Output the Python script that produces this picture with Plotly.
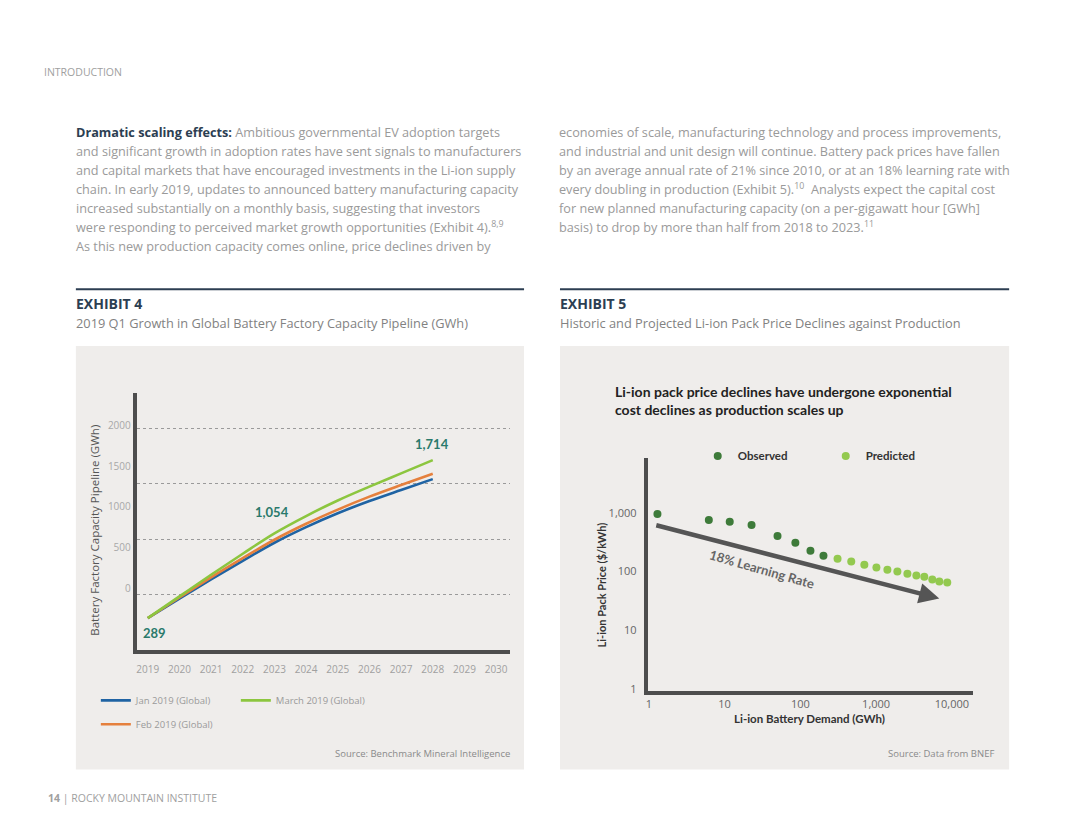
import plotly.graph_objects as go

W, H = 1080, 834
OX, OY = 7, 6  # page body margin compensation
def px(x): return (x - OX) / W
def py(y): return 1 - (y - OY) / H

# ---------------- data: Exhibit 4 ----------------
years = [2019, 2020, 2021, 2022, 2023, 2024, 2025, 2026, 2027, 2028]
jan_2019 = [289, 465, 638, 806, 969, 1110, 1235, 1345, 1445, 1543]
feb_2019 = [289, 475, 657, 830, 996, 1140, 1268, 1385, 1490, 1591]
mar_2019 = [289, 485, 680, 870, 1054, 1210, 1350, 1475, 1595, 1714]
year_ticks = list(range(2019, 2031))
cap_grid = [500, 1000, 1500, 2000]
cap_label_vals = [0, 500, 1000, 1500, 2000]

# ---------------- data: Exhibit 5 ----------------
obs_demand = [1.3, 6.2, 11.7, 22.7, 50, 86, 136, 202]
obs_price = [960, 760, 705, 625, 405, 310, 227, 187]
pred_demand = [310, 470, 700, 1010, 1410, 1910, 2590, 3400, 4330, 5520, 6830, 8700]
pred_price = [166, 148, 131, 117, 108, 100, 92, 86, 82, 73, 68, 65]
log_ticks = [1, 10, 100, 1000, 10000]
log_ticktext = ["1", "10", "100", "1,000", "10,000"]
price_ticks = [1, 10, 100, 1000]
price_ticktext = ["1", "10", "100", "1,000"]

FONT = "Open Sans"
FONT2 = "Lato"
BODY = "#9a9a9a"
NAVY = "#2c3e52"
TEAL = "#2a7a6b"
AXC = "#4d4d4d"
PANEL = "#efedeb"

fig = go.Figure()

# Exhibit 4 lines
fig.add_trace(go.Scatter(x=years, y=jan_2019, mode="lines", name="Jan 2019 (Global)",
                         line=dict(color="#1f63a3", width=2.6, shape="spline"),
                         xaxis="x", yaxis="y", legend="legend", legendrank=1))
fig.add_trace(go.Scatter(x=years, y=feb_2019, mode="lines", name="Feb 2019 (Global)",
                         line=dict(color="#e5803d", width=2.6, shape="spline"),
                         xaxis="x", yaxis="y", legend="legend2"))
fig.add_trace(go.Scatter(x=years, y=mar_2019, mode="lines", name="March 2019 (Global)",
                         line=dict(color="#8cc63f", width=2.6, shape="spline"),
                         xaxis="x", yaxis="y", legend="legend", legendrank=2))
# carrier for the (offset) value labels of the Exhibit 4 axis
fig.add_trace(go.Scatter(x=[years[0]], y=[cap_label_vals[0]], mode="markers",
                         marker=dict(opacity=0), showlegend=False, hoverinfo="skip",
                         xaxis="x", yaxis="y3"))

# Exhibit 5 scatter
fig.add_trace(go.Scatter(x=obs_demand, y=obs_price, mode="markers", name="Observed",
                         marker=dict(color="#3e7b3a", size=8),
                         xaxis="x2", yaxis="y2", legend="legend3"))
fig.add_trace(go.Scatter(x=pred_demand, y=pred_price, mode="markers", name="Predicted",
                         marker=dict(color="#93c94f", size=8),
                         xaxis="x2", yaxis="y2", legend="legend3"))

shapes = [
    dict(type="rect", xref="paper", yref="paper", x0=px(73), x1=px(522), y0=py(772), y1=py(346),
         fillcolor=PANEL, line=dict(width=0), layer="below"),
    dict(type="rect", xref="paper", yref="paper", x0=px(558), x1=px(1008), y0=py(772), y1=py(346),
         fillcolor=PANEL, line=dict(width=0), layer="below"),
    dict(type="line", xref="paper", yref="paper", x0=px(73), x1=px(522), y0=py(289), y1=py(289),
         line=dict(color=NAVY, width=2)),
    dict(type="line", xref="paper", yref="paper", x0=px(558), x1=px(1008), y0=py(289), y1=py(289),
         line=dict(color=NAVY, width=2)),
]

ann = []
def text(x, y, s, size=12, color=BODY, anchor="left", angle=0, family=FONT):
    if anchor == "left":
        x -= 2  # annotation inner padding
    ann.append(dict(x=px(x), y=py(y), xref="paper", yref="paper", text=s, showarrow=False,
                    xanchor=anchor, yanchor="middle", textangle=angle,
                    font=dict(family=family, size=size, color=color)))

left_lines = [
    f"<b><span style='color:{NAVY}'>Dramatic scaling effects:</span></b> Ambitious governmental EV adoption targets",
    "and significant growth in adoption rates have sent signals to manufacturers",
    "and capital markets that have encouraged investments in the Li-ion supply",
    "chain. In early 2019, updates to announced battery manufacturing capacity",
    "increased substantially on a monthly basis, suggesting that investors",
    "were responding to perceived market growth opportunities (Exhibit 4).<sup>8,9</sup>",
    "As this new production capacity comes online, price declines driven by",
]
right_lines = [
    "economies of scale, manufacturing technology and process improvements,",
    "and industrial and unit design will continue. Battery pack prices have fallen",
    "by an average annual rate of 21% since 2010, or at an 18% learning rate with",
    "every doubling in production (Exhibit 5).<sup>10</sup>  Analysts expect the capital cost",
    "for new planned manufacturing capacity (on a per-gigawatt hour [GWh]",
    "basis) to drop by more than half from 2018 to 2023.<sup>11</sup>",
]
for i, s in enumerate(left_lines):
    text(73, 131 + 19 * i, s, size=12.7)
for i, s in enumerate(right_lines):
    text(557, 131 + 19 * i, s, size=12.7)

text(41, 70, "INTRODUCTION", size=10.5, color="#a0a0a0")
text(45, 801, "<b>14</b> | ROCKY MOUNTAIN INSTITUTE", size=10.5, color="#a0a0a0")

text(73, 303, "<b>EXHIBIT 4</b>", size=14, color=NAVY)
text(73, 323, "2019 Q1 Growth in Global Battery Factory Capacity Pipeline (GWh)", size=12.8, color="#828282")
text(558, 303, "<b>EXHIBIT 5</b>", size=14, color=NAVY)
text(558, 323, "Historic and Projected Li-ion Pack Price Declines against Production", size=12.8, color="#828282")

# Exhibit 4 chart texts
text(92, 531, "Battery Factory Capacity Pipeline (GWh)", size=11.5, color="#555555", anchor="center", angle=-90)
text(510, 756, "Source: Benchmark Mineral Intelligence", size=9.5, color="#8a8a8a", anchor="right")

# data labels
for xv, yv, s, xs, ys in [(years[0], mar_2019[0], "289", 7, -15),
                          (years[4], mar_2019[4], "1,054", -2, 21),
                          (years[9], mar_2019[9], "1,714", -1, 16)]:
    ann.append(dict(x=xv, y=yv, xref="x", yref="y", text=f"<b>{s}</b>", showarrow=False,
                    xshift=xs, yshift=ys, font=dict(family=FONT2, size=13, color=TEAL)))

# Exhibit 5 chart texts
ann.append(dict(x=px(611), y=py(401), xref="paper", yref="paper", showarrow=False,
                xanchor="left", yanchor="middle", align="left",
                text="<b>Li-ion pack price declines have undergone exponential<br>cost declines as production scales up</b>",
                font=dict(family=FONT2, size=14, color="#222222")))
text(600, 586, "<b>Li-ion Pack Price ($/kWh)</b>", size=11, color="#333333", anchor="center", angle=-90, family=FONT2)
text(808, 721, "<b>Li-ion Battery Demand (GWh)</b>", size=11.5, color="#333333", anchor="center", family=FONT2)
text(995, 756, "Source: Data from BNEF", size=9.5, color="#8a8a8a", anchor="right")

# learning-rate arrow
ann.append(dict(x=3.834, y=1.542, ax=0.079, ay=2.797, xref="x2", yref="y2", axref="x2", ayref="y2",
                showarrow=True, arrowhead=2, arrowsize=0.9, arrowwidth=4.5, arrowcolor="#555555",
                text="", standoff=0))
text(760, 570, "<b>18% Learning Rate</b>", size=13, color="#666666", anchor="center", angle=16, family=FONT2)

fig.update_layout(
    width=W, height=H, margin=dict(l=0, r=0, t=0, b=0),
    paper_bgcolor="white", plot_bgcolor="rgba(0,0,0,0)",
    font=dict(family=FONT),
    shapes=shapes, annotations=ann,
    xaxis=dict(domain=[px(134), px(508)], range=[2018.653, 2030.441], tickvals=year_ticks,
               showgrid=False, zeroline=False, showline=True, linewidth=4, linecolor=AXC,
               ticks="", ticklabelstandoff=7, tickfont=dict(size=10, color="#a0a0a0"), anchor="y"),
    yaxis=dict(domain=[py(652), py(393)], range=[0, 2323], tickvals=cap_grid,
               showticklabels=False, showgrid=True, griddash="dot", gridcolor="#9a9a9a", gridwidth=1,
               zeroline=False, showline=True, linewidth=4, linecolor=AXC, ticks="", anchor="x"),
    yaxis3=dict(overlaying="y", anchor="x", side="left", range=[-756, 2402], tickvals=cap_label_vals,
                showgrid=False, zeroline=False, showline=False, ticks="", ticklabelstandoff=5,
                tickfont=dict(size=10, color="#a8a8a8")),
    xaxis2=dict(domain=[px(646), px(972)], type="log", range=[-0.013, 4.282], tickvals=log_ticks,
                ticktext=log_ticktext, showgrid=False, zeroline=False, showline=True, linewidth=4,
                linecolor=AXC, ticks="", tickfont=dict(size=11, color="#666666"), anchor="y2"),
    yaxis2=dict(domain=[py(693), py(459)], type="log", range=[-0.034, 3.932], tickvals=price_ticks,
                ticktext=price_ticktext, showgrid=False, zeroline=False, showline=True, linewidth=4,
                linecolor=AXC, ticks="", ticklabelstandoff=5, tickfont=dict(size=11, color="#666666"),
                anchor="x2"),
    legend=dict(orientation="h", x=px(93), y=py(688), xanchor="left", yanchor="top",
                entrywidth=95, bgcolor="rgba(0,0,0,0)", font=dict(size=9.5, color="#9a9a9a")),
    legend2=dict(orientation="h", x=px(93), y=py(712), xanchor="left", yanchor="top",
                 bgcolor="rgba(0,0,0,0)", font=dict(size=9.5, color="#9a9a9a")),
    legend3=dict(orientation="h", x=px(696), y=py(442), xanchor="left", yanchor="top",
                 entrywidth=83, bgcolor="rgba(0,0,0,0)",
                 font=dict(family=FONT2, size=11.5, color="#333333", weight="bold")),
    showlegend=True,
)

fig.write_html("out.html")
